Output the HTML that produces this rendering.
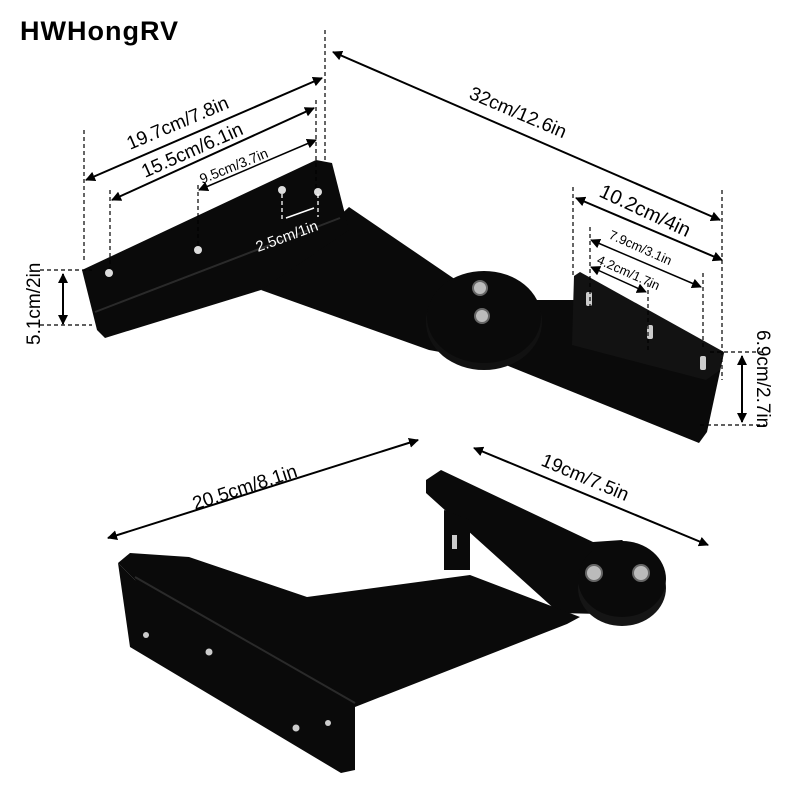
<!DOCTYPE html>
<html><head><meta charset="utf-8"><style>
html,body{margin:0;padding:0;background:#fff;}
svg text{font-family:"Liberation Sans",sans-serif;fill:#000;}
</style></head><body>
<svg width="800" height="800" viewBox="0 0 800 800" xmlns="http://www.w3.org/2000/svg">
<defs>
<marker id="a" markerWidth="10" markerHeight="10" refX="9" refY="5" orient="auto-start-reverse" markerUnits="userSpaceOnUse"><path d="M0,0 L10,5 L0,10 z" fill="#000"/></marker>
</defs>
<text x="20" y="40" font-size="27" font-weight="bold" letter-spacing="1">HWHongRV</text>

<!-- top bracket -->
<g fill="#0a0a0a">
<polygon points="261,290 349,207 459,282 470,300 440,352 429,350"/>
<polygon points="470,300 545,300 575,300 724,353 707,432 699,443 501,363 470,345"/>
<ellipse cx="484" cy="322" rx="58" ry="48" fill="#111"/>
<ellipse cx="484" cy="317" rx="57" ry="46"/>
<polygon points="82,270 316,160 332,163 349,230 261,290 105,338 97,330"/>
<polygon points="574,276 580,272 724,352 720,370 706,380 572,345" fill="#121212"/>
</g>
<line x1="95" y1="312" x2="340" y2="218" stroke="#2a2a2a" stroke-width="2"/>
<g fill="#ddd">
<circle cx="109" cy="273" r="4"/><circle cx="198" cy="250" r="4"/><circle cx="282" cy="190" r="4"/><circle cx="318" cy="192" r="4"/>
</g>
<g fill="#bbb" stroke="#666" stroke-width="2">
<circle cx="480" cy="288" r="7"/><circle cx="482" cy="316" r="7"/>
</g>
<g fill="#ccc">
<rect x="586" y="292" width="6" height="14" rx="2"/><rect x="647" y="325" width="6" height="14" rx="2"/><rect x="700" y="356" width="6" height="14" rx="2"/>
</g>
<g stroke="#fff" stroke-width="1.3" stroke-dasharray="4,3">
<line x1="282" y1="194" x2="282" y2="222"/><line x1="318" y1="194" x2="318" y2="217"/>
</g>
<line x1="286" y1="218" x2="314" y2="208" stroke="#fff" stroke-width="1.5"/>
<text transform="translate(258,252) rotate(-20)" font-size="15" style="fill:#fff">2.5cm/1in</text>

<!-- bottom bracket -->
<g fill="#0a0a0a">
<polygon points="426,493 426,480 441,470 593,542 622,540 665,577 640,615 559,613"/>
<polygon points="444,510 470,520 470,570 444,570"/>
<ellipse cx="622" cy="588" rx="44" ry="38" fill="#151515"/>
<ellipse cx="622" cy="579" rx="44" ry="38"/>
<polygon points="118,563 130,553 189,557 307,597 359,590 470,575 580,617 567,624 355,707 140,585"/>
<polygon points="118,563 135,580 355,703 355,770 341,773 130,647"/>
</g>
<line x1="135" y1="577" x2="355" y2="703" stroke="#2a2a2a" stroke-width="2"/>
<g fill="#ccc">
<circle cx="146" cy="635" r="3"/><circle cx="209" cy="652" r="3.5"/><circle cx="296" cy="728" r="3.5"/><circle cx="328" cy="723" r="3"/>
<rect x="452" y="535" width="5" height="14"/>
</g>
<g fill="#bbb" stroke="#666" stroke-width="2">
<circle cx="594" cy="573" r="8"/><circle cx="641" cy="573" r="8"/>
</g>

<!-- dimension lines -->
<g stroke="#000" stroke-width="2" fill="none">
<line x1="86" y1="180" x2="322" y2="78" marker-start="url(#a)" marker-end="url(#a)"/>
<line x1="112" y1="200" x2="314" y2="108" marker-start="url(#a)" marker-end="url(#a)"/>
<line x1="199" y1="190" x2="316" y2="140" stroke-width="1.5" marker-start="url(#a)" marker-end="url(#a)"/>
<line x1="333" y1="52" x2="720" y2="220" marker-start="url(#a)" marker-end="url(#a)"/>
<line x1="576" y1="198" x2="722" y2="260" marker-start="url(#a)" marker-end="url(#a)"/>
<line x1="591" y1="240" x2="701" y2="287" stroke-width="1.5" marker-start="url(#a)" marker-end="url(#a)"/>
<line x1="591" y1="267" x2="646" y2="292" stroke-width="1.5" marker-start="url(#a)" marker-end="url(#a)"/>
<line x1="63" y1="274" x2="63" y2="324" marker-start="url(#a)" marker-end="url(#a)"/>
<line x1="742" y1="356" x2="742" y2="422" marker-start="url(#a)" marker-end="url(#a)"/>
<line x1="108" y1="538" x2="418" y2="440" marker-start="url(#a)" marker-end="url(#a)"/>
<line x1="474" y1="448" x2="708" y2="545" marker-start="url(#a)" marker-end="url(#a)"/>
</g>
<g stroke="#000" stroke-width="1.2" stroke-dasharray="4,3" fill="none">
<line x1="84" y1="130" x2="84" y2="262"/>
<line x1="110" y1="190" x2="110" y2="268"/>
<line x1="198" y1="185" x2="198" y2="247"/>
<line x1="325" y1="30" x2="325" y2="160"/>
<line x1="316" y1="100" x2="316" y2="188"/>
<line x1="573" y1="187" x2="573" y2="277"/>
<line x1="722" y1="190" x2="722" y2="380"/>
<line x1="590" y1="227" x2="590" y2="307"/>
<line x1="648" y1="283" x2="648" y2="350"/>
<line x1="703" y1="273" x2="703" y2="350"/>
<line x1="40" y1="270" x2="92" y2="270"/>
<line x1="40" y1="325" x2="92" y2="325"/>
<line x1="710" y1="352" x2="765" y2="352"/>
<line x1="700" y1="425" x2="765" y2="425"/>
</g>

<!-- labels -->
<g font-size="19">
<text transform="translate(130,150) rotate(-23)">19.7cm/7.8in</text>
<text transform="translate(145,178) rotate(-24)">15.5cm/6.1in</text>
<text transform="translate(202,184) rotate(-22)" font-size="14">9.5cm/3.7in</text>
<text transform="translate(468,98) rotate(23)">32cm/12.6in</text>
<text transform="translate(598,196) rotate(25)" font-size="20">10.2cm/4in</text>
<text transform="translate(608,238) rotate(24)" font-size="13">7.9cm/3.1in</text>
<text transform="translate(596,263) rotate(24)" font-size="13">4.2cm/1.7in</text>
<text transform="translate(40,345) rotate(-90)">5.1cm/2in</text>
<text transform="translate(757,330) rotate(90)">6.9cm/2.7in</text>
<text transform="translate(195,510) rotate(-18)">20.5cm/8.1in</text>
<text transform="translate(540,465) rotate(23)">19cm/7.5in</text>
</g>
</svg>
</body></html>
